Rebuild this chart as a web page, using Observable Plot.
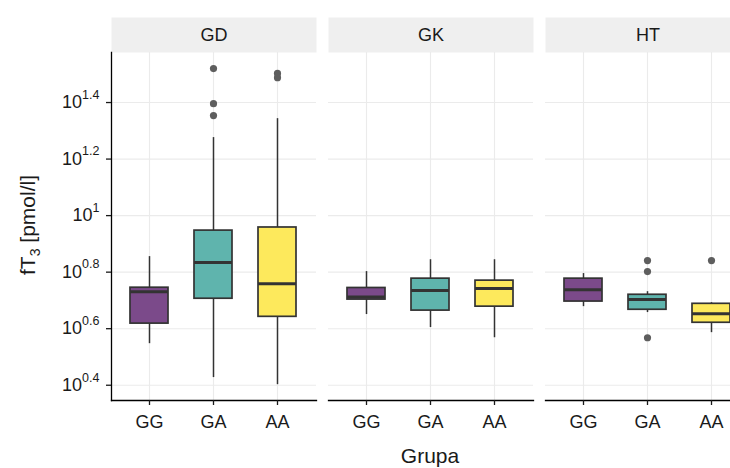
<!DOCTYPE html>
<html><head><meta charset="utf-8">
<script src="https://cdn.jsdelivr.net/npm/d3@7"></script>
<script src="https://cdn.jsdelivr.net/npm/@observablehq/plot@0.6"></script>
<style>html,body{margin:0;padding:0;overflow:hidden;background:#fff} #chart svg{max-width:none !important}</style>
</head><body><div id="chart"></div>
<script>
const facets = ["GD","GK","HT"];
const groups = ["GG","GA","AA"];
const boxPanel = ["GD","GD","GD","GK","GK","GK","HT","HT","HT"];
const boxGroup = ["GG","GA","AA","GG","GA","AA","GG","GA","AA"];
// values are log10 exponents of fT3 [pmol/l]
const whiskerLow  = [0.547,0.427,0.402,0.650,0.604,0.568,0.678,0.657,0.586];
const q1          = [0.618,0.706,0.642,0.703,0.664,0.678,0.696,0.667,0.621];
const median      = [0.731,0.834,0.759,0.712,0.735,0.742,0.738,0.703,0.653];
const q3          = [0.745,0.947,0.958,0.744,0.777,0.770,0.777,0.720,0.688];
const whiskerHigh = [0.855,1.276,1.343,0.802,0.844,0.844,0.795,0.731,0.692];
const outPanel = ["GD","GD","GD","GD","GD","HT","HT","HT","HT"];
const outGroup = ["GA","GA","GA","AA","AA","GA","GA","GA","AA"];
const outValue = [1.520,1.396,1.354,1.503,1.488,0.841,0.802,0.568,0.841];
const yTicks = [0.4,0.6,0.8,1.0,1.2,1.4];
const fills = ["#7b4a8a","#5fb4ad","#fde95c"];

const boxes = boxPanel.map((p,i)=>({panel:p, grupa:boxGroup[i], lo:whiskerLow[i], q1:q1[i], med:median[i], q3:q3[i], hi:whiskerHigh[i]}));
const outliers = outPanel.map((p,i)=>({panel:p, grupa:outGroup[i], v:outValue[i]}));
const FONT = "'Liberation Sans', Arial, sans-serif";

const chart = Plot.plot({
  width: 760, height: 468,
  marginLeft: 110, marginRight: 10, marginTop: 52, marginBottom: 68,
  style: {fontFamily: FONT, color: "#1a1a1a", background: "#fff", maxWidth: "none", overflow: "visible"},
  fx: {domain: facets, paddingInner: 0.0575, paddingOuter: 0, axis: null, label: null},
  x: {domain: groups, paddingInner: 0.406, paddingOuter: 0.303, label: null},
  y: {domain: [0.346, 1.577], label: null},
  color: {domain: groups, range: fills},
  marks: [
    Plot.frame({fill: "#efefef", stroke: null, insetTop: -35, insetBottom: 348}),
    Plot.text(facets, {fx: d => d, text: d => d, frameAnchor: "top", lineAnchor: "middle", dy: -17.5, fontSize: 18, fill: "#1a1a1a"}),
    Plot.gridY(yTicks, {stroke: "#ebebeb", strokeOpacity: 1, strokeWidth: 1.1}),
    Plot.gridX(groups, {stroke: "#ebebeb", strokeOpacity: 1, strokeWidth: 1.1}),
    Plot.ruleX(boxes, {fx: "panel", x: "grupa", y1: "lo", y2: "q1", stroke: "#333", strokeWidth: 1.5}),
    Plot.ruleX(boxes, {fx: "panel", x: "grupa", y1: "q3", y2: "hi", stroke: "#333", strokeWidth: 1.5}),
    Plot.barY(boxes, {fx: "panel", x: "grupa", y1: "q1", y2: "q3", fill: "grupa", stroke: "#333", strokeWidth: 1.7}),
    Plot.tickY(boxes, {fx: "panel", x: "grupa", y: "med", stroke: "#333", strokeWidth: 3}),
    Plot.dot(outliers, {fx: "panel", x: "grupa", y: "v", r: 3.6, fill: "#5e5e5e", stroke: null}),
    Plot.frame({anchor: "bottom", stroke: "#000", strokeWidth: 1.3}),
    Plot.frame({anchor: "left", stroke: "#000", strokeWidth: 1.3, facetAnchor: "left"}),
    Plot.axisY({ticks: yTicks, tickSize: 5, tickPadding: 7, fontSize: 18, strokeWidth: 1.3, label: null,
      tickFormat: v => "10^" + String(+v.toFixed(1))}),
    Plot.axisX({tickSize: 5, tickPadding: 10, fontSize: 18, strokeWidth: 1.3, label: null})
  ]
});

// superscript exponents on y tick labels
d3.select(chart).selectAll('[aria-label="y-axis tick label"] text').each(function() {
  const t = this.textContent;
  if (!t.startsWith("10^")) return;
  const exp = t.slice(3);
  const sel = d3.select(this);
  sel.text(null);
  sel.append("tspan").text("10");
  sel.append("tspan").attr("dy", -9.5).attr("font-size", 12.5).text(exp);
});

const svg = d3.select(chart);
svg.append("text")
  .attr("x", 430).attr("y", 463)
  .attr("text-anchor", "middle").attr("font-size", 21)
  .attr("fill", "#1a1a1a").attr("font-family", FONT)
  .text("Grupa");
const yl = svg.append("text")
  .attr("transform", "translate(35,225) rotate(-90)")
  .attr("text-anchor", "middle").attr("font-size", 21)
  .attr("fill", "#1a1a1a").attr("font-family", FONT);
yl.append("tspan").text("fT");
yl.append("tspan").attr("font-size", 14).attr("dy", 5).text("3");
yl.append("tspan").attr("dy", -5).text(" [pmol/l]");

document.getElementById("chart").appendChild(chart);
</script>
</body></html>
